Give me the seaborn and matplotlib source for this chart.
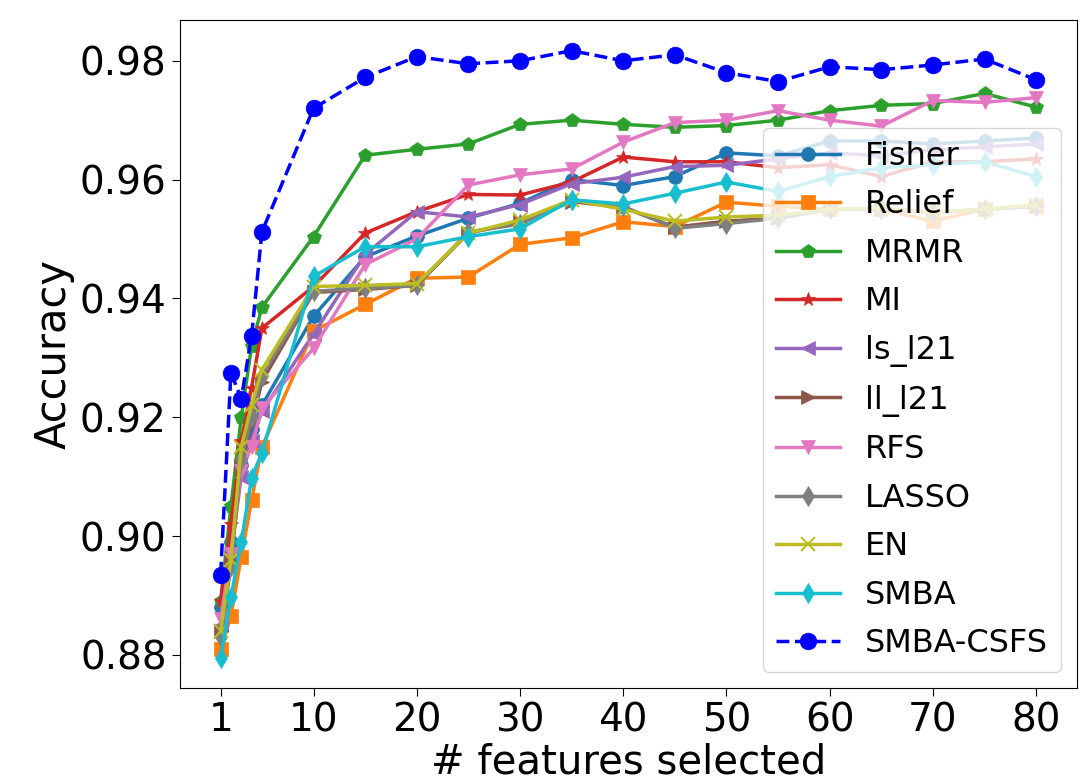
import numpy as np
import pandas as pd
import seaborn as sns
import matplotlib
matplotlib.use("Agg")
import matplotlib.pyplot as plt

# number of selected features
n_features = [1, 2, 3, 4, 5, 10, 15, 20, 25, 30, 35, 40, 45, 50, 55, 60, 65, 70, 75, 80]

fisher = [0.888, 0.899, 0.912, 0.918, 0.922, 0.937, 0.947, 0.9505, 0.9535, 0.956, 0.960, 0.959,
          0.9605, 0.9645, 0.964, 0.9665, 0.9665, 0.966, 0.9665, 0.967]
relief = [0.881, 0.8865, 0.8965, 0.906, 0.915, 0.9345, 0.939, 0.9434, 0.9436, 0.9491, 0.9502, 0.9529,
          0.9521, 0.9562, 0.9555, 0.955, 0.955, 0.953, 0.955, 0.9555]
mrmr = [0.889, 0.905, 0.920, 0.932, 0.9385, 0.9504, 0.9641, 0.9651, 0.966, 0.9693, 0.970, 0.9693,
        0.9688, 0.9691, 0.970, 0.9716, 0.9725, 0.9728, 0.9745, 0.9722]
mi = [0.889, 0.902, 0.916, 0.925, 0.935, 0.942, 0.951, 0.9546, 0.9575, 0.9574, 0.9596, 0.9638,
      0.963, 0.963, 0.962, 0.9625, 0.9605, 0.963, 0.963, 0.9635]
ls_l21 = [0.885, 0.897, 0.910, 0.916, 0.921, 0.934, 0.9474, 0.9546, 0.9537, 0.9558, 0.9593, 0.9604,
          0.9622, 0.9624, 0.9635, 0.9645, 0.964, 0.965, 0.9655, 0.966]
ll_l21 = [0.884, 0.896, 0.912, 0.919, 0.926, 0.941, 0.9415, 0.9422, 0.951, 0.9528, 0.9563, 0.9553,
          0.952, 0.953, 0.9535, 0.955, 0.955, 0.9545, 0.955, 0.9555]
rfs = [0.886, 0.897, 0.911, 0.915, 0.9215, 0.9316, 0.9457, 0.950, 0.9591, 0.9608, 0.9618, 0.9663,
       0.9696, 0.970, 0.9716, 0.970, 0.969, 0.9733, 0.973, 0.9738]
lasso = [0.883, 0.895, 0.913, 0.920, 0.927, 0.9412, 0.9417, 0.9422, 0.9512, 0.9525, 0.9566, 0.9555,
         0.9518, 0.9526, 0.9535, 0.955, 0.955, 0.9545, 0.955, 0.9555]
en = [0.884, 0.896, 0.915, 0.922, 0.928, 0.942, 0.9422, 0.9425, 0.951, 0.9532, 0.9566, 0.955,
      0.953, 0.9537, 0.954, 0.955, 0.9552, 0.9545, 0.955, 0.9558]
smba = [0.8795, 0.8897, 0.899, 0.9098, 0.914, 0.9437, 0.9487, 0.9487, 0.9504, 0.9517, 0.9566, 0.9559,
        0.9577, 0.9596, 0.958, 0.9605, 0.962, 0.9625, 0.963, 0.9605]
smba_csfs = [0.8935, 0.9275, 0.9231, 0.9337, 0.9512, 0.972, 0.9772, 0.9807, 0.9795, 0.980, 0.9817, 0.980,
             0.981, 0.978, 0.9765, 0.979, 0.9785, 0.9793, 0.9803, 0.9768]

methods = ["Fisher", "Relief", "MRMR", "MI", "ls_l21", "ll_l21", "RFS", "LASSO", "EN", "SMBA", "SMBA-CSFS"]
series = [fisher, relief, mrmr, mi, ls_l21, ll_l21, rfs, lasso, en, smba, smba_csfs]
markers = ["o", "s", "p", "*", "<", ">", "v", "d", "x", "d", "o"]
colors = list(sns.color_palette("tab10")) + ["blue"]

fig = plt.figure(figsize=(10.9, 7.82), dpi=100)
ax = fig.add_axes([0.165, 0.12, 0.823, 0.854])

for name, vals, mk, col in zip(methods, series, markers, colors):
    df = pd.DataFrame({"features": n_features, "acc": vals})
    csfs = name == "SMBA-CSFS"
    sns.lineplot(data=df, x="features", y="acc", ax=ax, label=name, color=col,
                 marker=mk, markersize=12 if csfs else 10, linewidth=2.5,
                 linestyle="--" if csfs else "-", markeredgecolor=col,
                 markeredgewidth=1.5 if mk == "x" else 0.5)

ax.set_xticks([1, 10, 20, 30, 40, 50, 60, 70, 80])
ax.set_yticks([0.88, 0.90, 0.92, 0.94, 0.96, 0.98])
ax.tick_params(labelsize=28, length=6)
ax.set_xlabel("# features selected", fontsize=29, labelpad=2)
ax.set_ylabel("Accuracy", fontsize=30, labelpad=4)
ax.legend(loc="lower right", fontsize=23, labelspacing=0.55)

plt.savefig("out.png", dpi=100)
